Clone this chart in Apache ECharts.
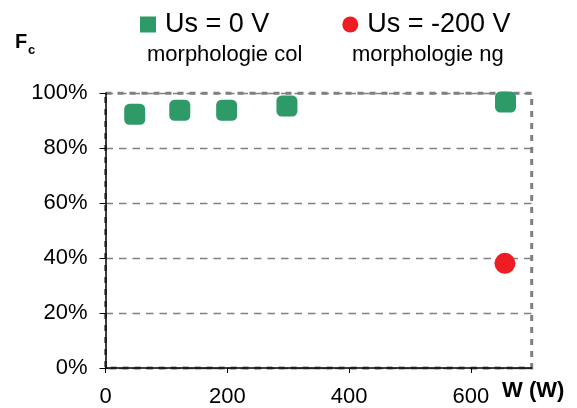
<!DOCTYPE html>
<html>
<head>
<meta charset="utf-8">
<script src="https://cdn.jsdelivr.net/npm/echarts@6/dist/echarts.min.js"></script>
<style>
html,body{margin:0;padding:0;background:#fff;}
#c{width:577px;height:408px;}
</style>
</head>
<body>
<div id="c"></div>
<script>
// Data
const seriesNames = ['Us = 0 V', 'Us = -200 V'];
const seriesSubtitles = ['morphologie col', 'morphologie ng'];
const wUs0 = [48, 122, 199, 298, 657];
const fcUs0 = [92.4, 93.8, 93.8, 95.4, 96.8];
const wUs200 = [656];
const fcUs200 = [38.1];
const xTicks = [0, 200, 400, 600];
const yTicks = [0, 20, 40, 60, 80, 100];

const FONT = 'Liberation Sans, Arial, Helvetica, sans-serif';
const chart = echarts.init(document.getElementById('c'), null, {renderer: 'canvas'});

const zip = (xs, ys) => xs.map((x, i) => [x, ys[i]]);
const plain = (size, weight) => ({fontFamily: FONT, fontWeight: weight || 'normal', fontSize: size, color: '#000'});

chart.setOption({
  animation: false,
  backgroundColor: '#ffffff',
  textStyle: {fontFamily: FONT},
  title: [
    {text: 'F', left: 15, top: 32, padding: 0, textStyle: plain(20, 'bold')},
    {text: 'c', left: 28, top: 44, padding: 0, textStyle: plain(13, 'bold')},
    {text: seriesSubtitles[0], left: 147, top: 44, padding: 0, textStyle: plain(22)},
    {text: seriesSubtitles[1], left: 352, top: 44, padding: 0, textStyle: plain(22)},
    {text: 'W (W)', left: 502, top: 380, padding: 0, textStyle: plain(22, 'bold')}
  ],
  legend: {
    left: 135, top: 6,
    itemWidth: 16, itemHeight: 16,
    itemGap: 73,
    textStyle: {fontFamily: FONT, fontSize: 27, color: '#000', padding: [0, 0, 7, 4]},
    data: [
      {name: seriesNames[0], icon: 'rect'},
      {name: seriesNames[1], icon: 'circle'}
    ]
  },
  grid: {
    left: 105.5, right: 45.3, top: 93.3, bottom: 39.7,
    show: true,
    borderColor: '#7f7f7f', borderWidth: 3,
    borderType: [6, 6]
  },
  xAxis: {
    type: 'value',
    min: 0, max: 700, interval: 200,
    axisLine: {show: true, onZero: false, lineStyle: {color: '#000', width: 1.5}},
    axisTick: {show: true, length: 5, lineStyle: {color: '#000', width: 1}, customValues: xTicks},
    axisLabel: {fontFamily: FONT, fontSize: 22, color: '#000', margin: 18, customValues: xTicks},
    splitLine: {show: false}
  },
  yAxis: {
    type: 'value',
    min: 0, max: 100, interval: 20,
    axisLine: {show: true, onZero: false, lineStyle: {color: '#000', width: 1.5}},
    axisTick: {show: true, length: 6, lineStyle: {color: '#000', width: 1}, customValues: yTicks},
    axisLabel: {fontFamily: FONT, fontSize: 22, color: '#000', margin: 18, formatter: v => v + '%', customValues: yTicks},
    splitLine: {show: true, lineStyle: {color: '#808080', width: 1.3, type: [7.5, 6]}}
  },
  series: [
    {
      name: seriesNames[0],
      type: 'scatter',
      symbol: 'roundRect',
      symbolSize: 21,
      itemStyle: {color: '#2e9a67', opacity: 1},
      emphasis: {disabled: true},
      data: zip(wUs0, fcUs0)
    },
    {
      name: seriesNames[1],
      type: 'scatter',
      symbol: 'circle',
      symbolSize: 21,
      itemStyle: {color: '#ee1d24', opacity: 1},
      emphasis: {disabled: true},
      data: zip(wUs200, fcUs200)
    }
  ]
});
</script>
</body>
</html>
